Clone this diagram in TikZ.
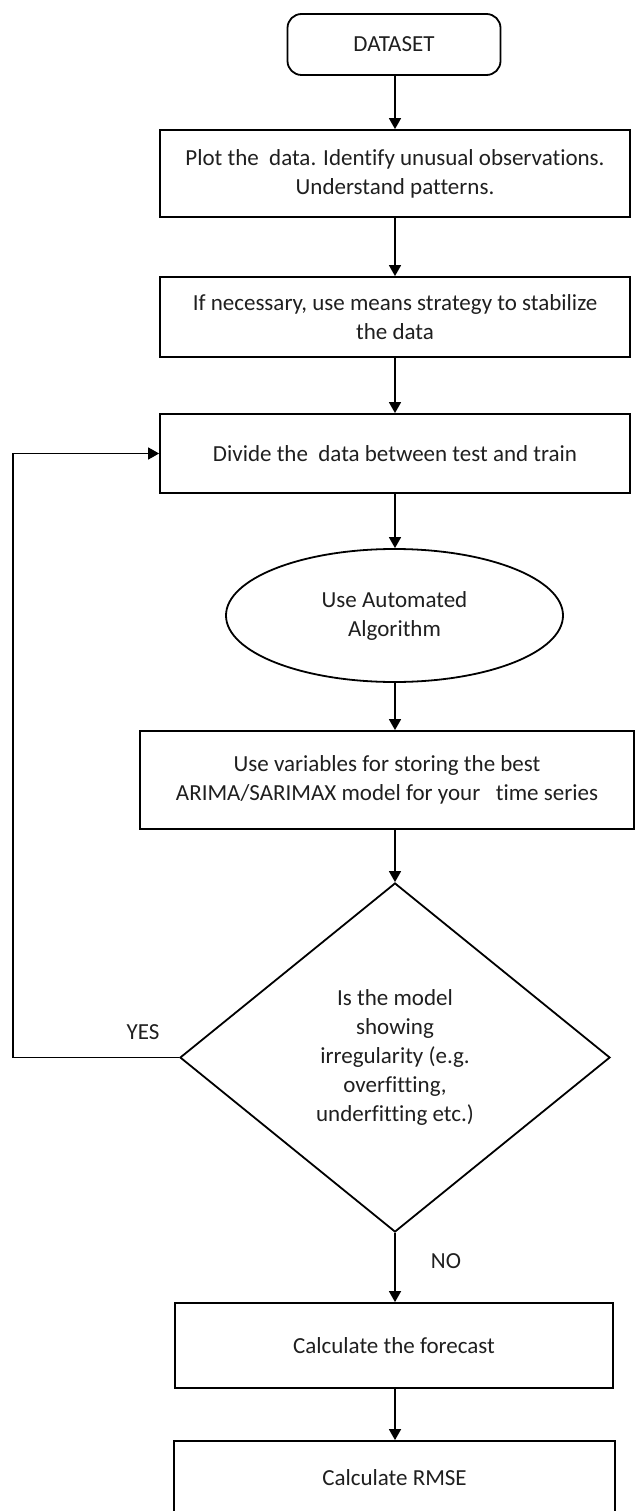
\documentclass[tikz,border=0pt]{standalone}
\usepackage{fontspec}
\setmainfont{Carlito}[Ligatures=NoCommon]
\usetikzlibrary{shapes.geometric,arrows.meta}
\begin{document}
\begin{tikzpicture}[x=1pt,y=-1pt,
  every node/.style={font=\fontsize{23}{29}\selectfont, align=center, line width=1.8pt, text=black!88},
  procbox/.style={draw, rectangle, inner sep=0pt},
  ovalbox/.style={draw, ellipse, inner sep=0pt},
  decbox/.style={draw, diamond, inner sep=0pt},
  arr/.style={draw, line width=1.6pt, -{Triangle[length=11pt,width=12pt]}},
  lbl/.style={inner sep=0pt}
  ]
\useasboundingbox (0,0) rectangle (636,1511);
\node[procbox, rounded corners=14pt, minimum width=213pt, minimum height=61pt] (ds) at (394,44.5) {DATASET};
\node[procbox, minimum width=470pt, minimum height=87pt] (plot) at (395,173.5) {Plot the\ \ data. Identify unusual observations.\\Understand patterns.};
\node[procbox, minimum width=470pt, minimum height=80pt] (stab) at (395,317) {If necessary, use means strategy to stabilize\\the data};
\node[procbox, minimum width=470pt, minimum height=79pt] (divide) at (395,453.5) {Divide the\ \ data between test and train};
\node[ovalbox, minimum width=337pt, minimum height=133pt] (algo) at (394.5,615.5) {Use Automated\\Algorithm};
\node[procbox, minimum width=494pt, minimum height=98pt] (vars) at (387,780) {Use variables for storing the best\\ARIMA/SARIMAX model for your\ \ \ time series};
\node[decbox, minimum width=430pt, minimum height=349pt] (dec) at (395,1057.5) {Is the model\\showing\\irregularity (e.g.\\overfitting,\\underfitting etc.)};
\node[procbox, minimum width=438pt, minimum height=85pt] (fc) at (394,1345.5) {Calculate the forecast};
\node[procbox, minimum width=441pt, minimum height=74pt] (rmse) at (394.5,1478) {Calculate RMSE};
\node[lbl] (yes) at (143,1032) {YES};
\node[lbl] (no) at (446,1261) {NO};
\coordinate (lp) at (13,1057.5);
\draw[arr] (ds.south -| plot.north) -- (plot.north);
\draw[arr] (plot.south) -- (stab.north);
\draw[arr] (stab.south) -- (divide.north);
\draw[arr] (divide.south) -- (divide.south |- algo.north);
\draw[arr] (algo.south -| divide.south) -- (divide.south |- vars.north);
\draw[arr] (vars.south -| dec.north) -- (dec.north);
\draw[arr] (dec.west) -- (lp) |- (divide.west);
\draw[arr] (dec.south) -- (fc.north -| dec.south);
\draw[arr] (fc.south -| dec.south) -- (rmse.north -| dec.south);
\end{tikzpicture}
\end{document}
